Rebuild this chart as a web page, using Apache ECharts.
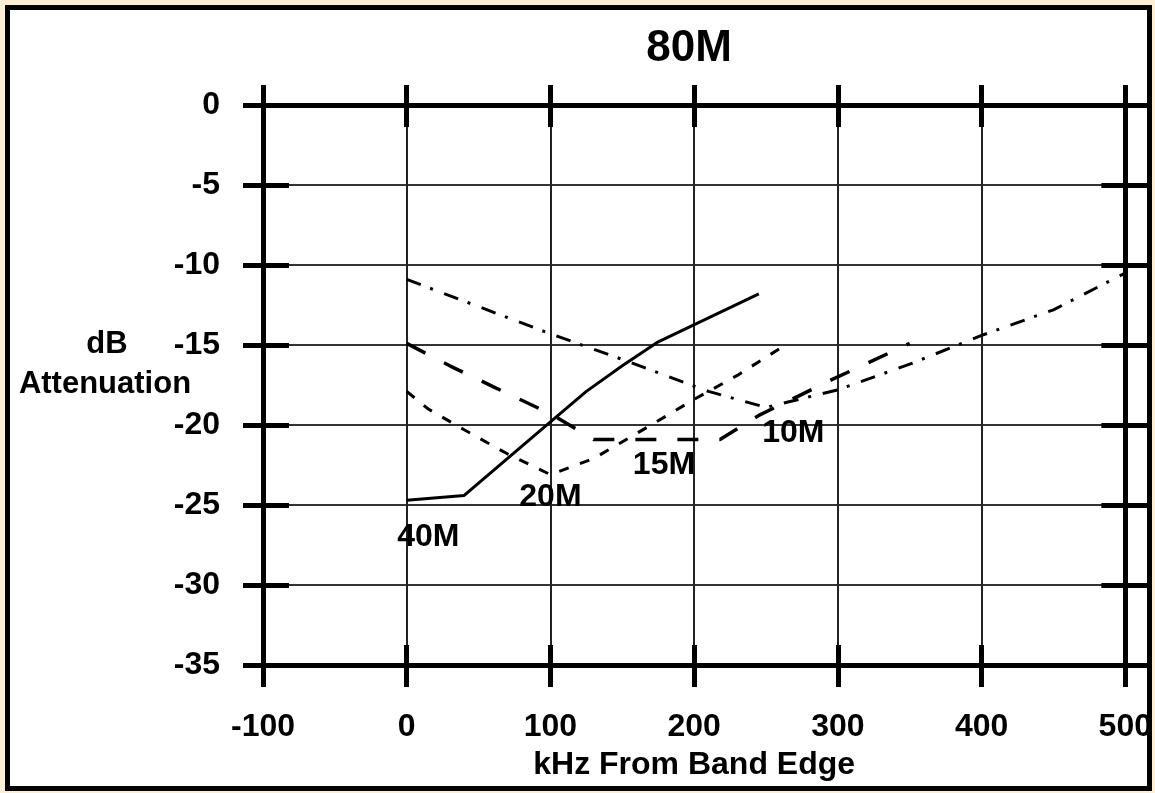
<!DOCTYPE html>
<html>
<head>
<meta charset="utf-8">
<script src="https://cdn.jsdelivr.net/npm/echarts@6/dist/echarts.min.js"></script>
<style>
  html, body { margin: 0; padding: 0; background: #fcefd6; }
  #frame { position: absolute; left: 5px; top: 5px; width: 1147px; height: 786px; box-sizing: border-box;
           border: 5px solid #000; background: #fff; }
  #c { position: absolute; left: 0; top: 0; width: 1155px; height: 793px; }
</style>
</head>
<body>
<div id="frame"></div>
<div id="c"></div>
<script>
// ---- data ----
const xRange = [-100, 500, 100];      // min, max, step (kHz)
const yRange = [-35, 0, 5];           // min, max, step (dB)

const x40 = [0, 40, 100, 125, 150, 175, 210, 245];
const y40 = [-24.7, -24.4, -19.8, -17.9, -16.3, -14.8, -13.3, -11.8];

const x20 = [0, 15, 40, 70, 100, 115, 130, 170, 200, 230, 260];
const y20 = [-17.9, -19.0, -20.3, -21.8, -23.1, -22.6, -22.1, -20.0, -18.4, -16.9, -15.2];

const x15 = [0, 30, 60, 100, 130, 218, 245, 295, 350];
const y15 = [-14.9, -16.3, -17.6, -19.3, -20.9, -20.9, -19.4, -17.2, -14.9];

const x10 = [0, 100, 150, 210, 250, 300, 350, 400, 450, 500];
const y10 = [-10.9, -14.3, -15.9, -17.9, -18.9, -17.8, -16.2, -14.4, -12.8, -10.5];

const bandNames = ['40M', '20M', '15M', '10M'];
const bandLabelX = [15, 100, 179, 269];
const bandLabelY = [-27.0, -24.5, -22.5, -20.5];

const titleText = '80M';
const xName = 'kHz From Band Edge';
const yNameLines = ['dB', 'Attenuation'];

// ---- chart ----
const font = 'Liberation Sans, Arial, Helvetica, sans-serif';
const zip = (xs, ys) => xs.map((x, i) => [x, ys[i]]);

function xAx(pos, extra) {
  return Object.assign({
    type: 'value', position: pos, min: xRange[0], max: xRange[1], interval: xRange[2],
    axisLine: { show: false, onZero: false },
    axisTick: { show: false },
    axisLabel: { show: false },
    splitLine: { show: false }
  }, extra);
}
function yAx(pos, extra) {
  return Object.assign({
    type: 'value', position: pos, min: yRange[0], max: yRange[1], interval: yRange[2],
    axisLine: { show: false, onZero: false },
    axisTick: { show: false },
    axisLabel: { show: false },
    splitLine: { show: false }
  }, extra);
}
const thick = { color: '#000', width: 5 };
const txt = { fontSize: 32, fontWeight: 'bold', color: '#000', fontFamily: font };

const chart = echarts.init(document.getElementById('c'), null, { renderer: 'canvas' });
chart.setOption({
  animation: false,
  backgroundColor: 'transparent',
  grid: { left: 263, right: 29, top: 105, bottom: 128, containLabel: false },
  graphic: [
    { type: 'text', x: 689, y: 49, style: { text: titleText, font: 'bold 44px ' + font, fill: '#000', align: 'center', verticalAlign: 'middle' } },
    { type: 'text', x: 107, y: 344, style: { text: yNameLines[0], font: 'bold 31px ' + font, fill: '#000', align: 'center', verticalAlign: 'middle' } },
    { type: 'text', x: 105, y: 384, style: { text: yNameLines[1], font: 'bold 31px ' + font, fill: '#000', align: 'center', verticalAlign: 'middle' } }
  ],
  xAxis: [
    xAx('bottom', {
      axisLine: { show: true, onZero: false, lineStyle: thick },
      axisTick: { show: true, length: 22, lineStyle: thick },
      axisLabel: Object.assign({ show: true, margin: 46 }, txt),
      splitLine: { show: true, lineStyle: { color: '#222', width: 2 } },
      name: xName, nameLocation: 'middle', nameGap: 84,
      nameTextStyle: txt
    }),
    xAx('bottom', { axisTick: { show: true, inside: true, length: 20, lineStyle: thick } }),
    xAx('top', {
      axisLine: { show: true, onZero: false, lineStyle: thick },
      axisTick: { show: true, length: 20, lineStyle: thick }
    }),
    xAx('top', { axisTick: { show: true, inside: true, length: 22, lineStyle: thick } })
  ],
  yAxis: [
    yAx('left', {
      axisLine: { show: true, onZero: false, lineStyle: thick },
      axisTick: { show: true, length: 20, lineStyle: thick },
      axisLabel: Object.assign({ show: true, margin: 43 }, txt),
      splitLine: { show: true, lineStyle: { color: '#333', width: 2 } }
    }),
    yAx('left', { axisTick: { show: true, inside: true, length: 26, lineStyle: thick } }),
    yAx('right', {
      axisLine: { show: true, onZero: false, lineStyle: thick },
      axisTick: { show: true, length: 24, lineStyle: thick }
    }),
    yAx('right', { axisTick: { show: true, inside: true, length: 24, lineStyle: thick } })
  ],
  series: [
    { name: bandNames[0], type: 'line', data: zip(x40, y40), showSymbol: false, symbol: 'none',
      lineStyle: { color: '#000', width: 3, type: 'solid' }, z: 5,
      markPoint: {
        symbol: 'circle', symbolSize: 0, silent: true,
        label: Object.assign({ show: true, position: 'inside', formatter: '{b}' }, txt),
        data: bandNames.map((n, i) => ({ name: n, coord: [bandLabelX[i], bandLabelY[i]] }))
      } },
    { name: bandNames[1], type: 'line', data: zip(x20, y20), showSymbol: false, symbol: 'none',
      lineStyle: { color: '#000', width: 3, type: [10, 12] }, z: 5 },
    { name: bandNames[2], type: 'line', data: zip(x15, y15), showSymbol: false, symbol: 'none',
      lineStyle: { color: '#000', width: 3.5, type: [21, 21] }, z: 5 },
    { name: bandNames[3], type: 'line', data: zip(x10, y10), showSymbol: false, symbol: 'none',
      lineStyle: { color: '#000', width: 3, type: [15, 10, 3, 12] }, z: 5 }
  ]
});
</script>
</body>
</html>
